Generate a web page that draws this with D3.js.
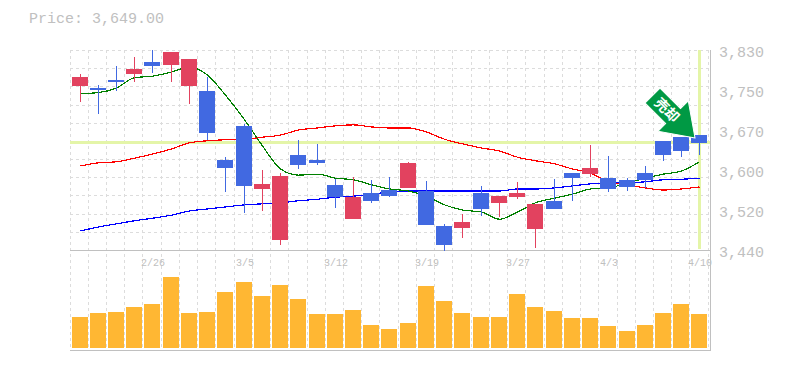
<!DOCTYPE html>
<html><head><meta charset="utf-8">
<script src="https://cdn.jsdelivr.net/npm/d3@7"></script>
<style>html,body{margin:0;padding:0;background:#fff}svg{display:block}</style>
</head><body><svg id="c" width="785" height="370"></svg>
<script>
const dates=["2/26","3/5","3/12","3/19","3/27","4/3","4/10"];
const dateIndex=[4,9,14,19,24,29,34];
const tickValues=[3830,3752,3674,3596,3518,3440];
const currentPrice=3649;
const open=[3760,3756,3772,3783,3807,3801,3760,3750,3615,3682,3559,3460,3625,3615,3567,3500,3551,3557,3561,3555,3487,3483,3551,3532,3543,3481,3536,3590,3588,3580,3576,3590,3653,3660,3664];
const high=[3783,3762,3799,3816,3830,3826,3812,3777,3621,3686,3596,3590,3654,3647,3578,3582,3577,3582,3612,3575,3491,3510,3565,3545,3573,3530,3578,3590,3645,3623,3580,3604,3653,3660,3664];
const low=[3729,3705,3750,3768,3785,3768,3725,3654,3553,3512,3516,3450,3598,3606,3522,3500,3532,3543,3561,3489,3438,3463,3506,3504,3540,3444,3520,3536,3582,3553,3555,3561,3614,3621,3625];
const close=[3777,3752,3768,3793,3799,3826,3812,3668,3600,3565,3569,3584,3606,3610,3543,3543,3536,3545,3610,3489,3450,3495,3520,3545,3551,3530,3520,3580,3600,3559,3563,3577,3625,3633,3649];
const maShort=[3745,3747,3756,3776,3779,3787,3797,3781,3742,3694,3643,3598,3586,3588,3580,3577,3567,3559,3555,3545,3528,3518,3514,3500,3514,3532,3541,3549,3559,3561,3571,3580,3588,3594,3612];
const maMid=[3604,3610,3612,3619,3627,3637,3649,3653,3655,3656,3660,3664,3674,3678,3682,3684,3680,3678,3678,3670,3656,3647,3639,3633,3621,3614,3608,3598,3590,3573,3567,3561,3557,3559,3563];
const maLong=[3477,3485,3491,3497,3502,3508,3516,3520,3524,3528,3530,3532,3536,3539,3543,3545,3549,3553,3555,3555,3555,3555,3555,3555,3559,3559,3561,3565,3569,3571,3571,3573,3577,3578,3580];
const volume=[62,70,72,82,88,142,70,72,112,132,104,126,98,68,68,76,46,38,50,124,94,70,62,62,108,82,74,60,60,44,34,46,70,88,68];
const signalLabel="売却";

const svg=d3.select("#c");
const L=70,R=710,T=50,M=250,B=350,n=open.length;
const idx=d3.range(n);
const x=d3.scaleLinear().domain([0,n]).range([L,708.2]);
const y=d3.scaleLinear().domain([3440,3830]).range([M,T]);
const v=d3.scaleLinear().domain([0,142]).range([348,277]);
const slot=i=>Math.floor(x(i));
const cx=i=>slot(i)+10.5;
const gridc="#dcdcdc",axisc="#c0c0c0",font="'Liberation Mono','DejaVu Sans Mono',monospace";
const RED="#e2425f",BLUE="#4169e1",PALE="#e4f5a8";

// grid
svg.append("g").selectAll("line").data(d3.range(0,n+1)).join("line")
 .attr("x1",i=>slot(i)+.5).attr("x2",i=>slot(i)+.5).attr("y1",T).attr("y2",B)
 .attr("stroke",gridc).attr("stroke-dasharray","3,3");
svg.append("g").selectAll("line").data(d3.range(0,11)).join("line")
 .attr("x1",L).attr("x2",R).attr("y1",i=>Math.round(T+i*(M-T)/11)+.5).attr("y2",i=>Math.round(T+i*(M-T)/11)+.5)
 .attr("stroke",gridc).attr("stroke-dasharray","3,3");

// current price guides
const py=Math.floor(y(currentPrice))+.5;
svg.append("line").attr("x1",L).attr("x2",R).attr("y1",py).attr("y2",py).attr("stroke",PALE).attr("stroke-width",3);
svg.append("line").attr("x1",cx(n-1)).attr("x2",cx(n-1)).attr("y1",T).attr("y2",M-1).attr("stroke",PALE).attr("stroke-width",3);

// frame
[[L,R+1,M+.5,M+.5],[L,R+1,B+.5,B+.5],[R+.5,R+.5,T,B]].forEach(([a,b,c,d])=>{
 svg.append("line").attr("x1",a).attr("x2",b).attr("y1",c).attr("y2",d).attr("stroke",axisc);
});

// volume
svg.append("g").selectAll("rect").data(idx).join("rect")
 .attr("x",i=>slot(i)+2).attr("width",16).attr("y",i=>v(volume[i])).attr("height",i=>348-v(volume[i])).attr("fill","#ffb733");

// moving averages
const line=d3.line().x((d,i)=>cx(i)).y(d=>y(d)).curve(d3.curveMonotoneX);
[[maMid,"#ff0000"],[maLong,"#0000ff"],[maShort,"#008000"]].forEach(([a,c])=>{
 svg.append("path").attr("d",line(a)).attr("fill","none").attr("stroke",c).attr("stroke-width",1.2).attr("shape-rendering","crispEdges");
});

// candles
const col=i=>close[i]>=open[i]?RED:BLUE;
const g=svg.append("g").attr("shape-rendering","crispEdges");
g.selectAll("line").data(idx).join("line")
 .attr("x1",cx).attr("x2",cx).attr("y1",i=>y(high[i])).attr("y2",i=>y(low[i])).attr("stroke",col);
g.selectAll("rect").data(idx).join("rect")
 .attr("x",i=>slot(i)+2).attr("width",16)
 .attr("y",i=>y(Math.max(open[i],close[i])))
 .attr("height",i=>Math.max(1,Math.abs(y(open[i])-y(close[i]))))
 .attr("fill",col);

// y labels
svg.append("g").selectAll("text").data(tickValues).join("text")
 .attr("x",719).attr("y",d=>y(d)+7).attr("font-family",font).attr("font-size",15).attr("fill","#c0c0c0")
 .text(d=>d3.format(",")(Math.round(d/10)*10));
// x labels
svg.append("g").selectAll("text").data(dates).join("text")
 .attr("x",(d,i)=>cx(dateIndex[i])+.5).attr("y",265.5).attr("text-anchor","middle").attr("font-family",font).attr("font-size",10).attr("fill","#c0c0c0")
 .text(d=>d);
// title
svg.append("text").attr("x",29).attr("y",23).attr("font-family",font).attr("font-size",15).attr("fill","#c0c0c0").text("Price: "+d3.format(",.2f")(currentPrice));

// signal arrow
svg.append("path")
 .attr("transform","translate(695,138) rotate(-45)")
 .attr("d","M0,0 L-21.5,-31 L-10.5,-31 L-10.5,-60 L10.5,-60 L10.5,-31 L21.5,-31 Z")
 .attr("fill","#009944").attr("stroke","#fff").attr("stroke-width",1);
svg.append("text").attr("transform","translate(667,110) rotate(45)").attr("text-anchor","middle").attr("dy",5)
 .attr("font-family","'Noto Sans CJK JP'").attr("font-weight",700).attr("font-size",14).attr("fill","#fff").text(signalLabel);
</script></body></html>
